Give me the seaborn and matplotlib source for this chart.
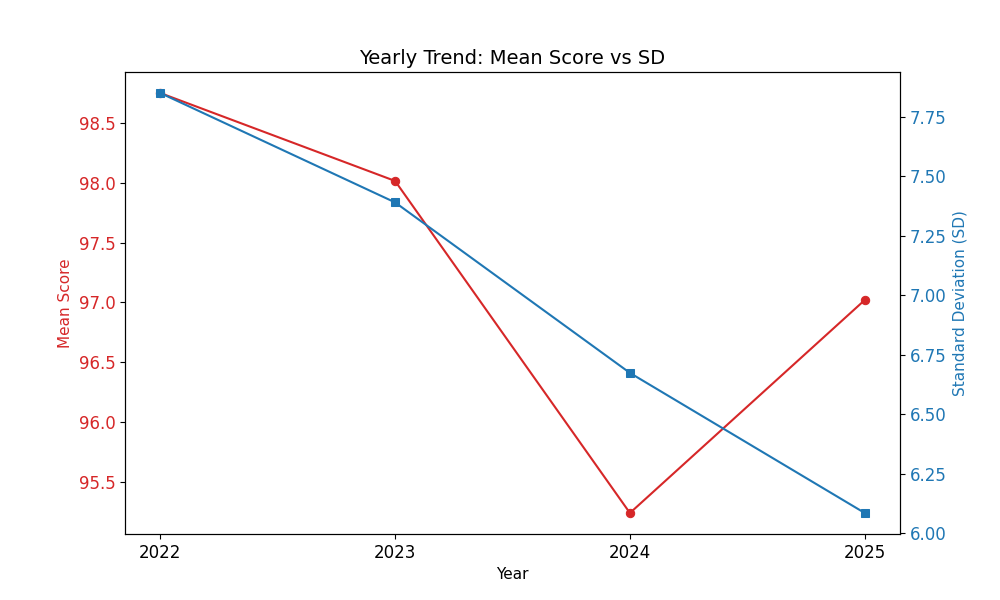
import pandas as pd
import seaborn as sns
import matplotlib.pyplot as plt

# данные по годам
years = [2022, 2023, 2024, 2025]
mean_score = [98.75, 98.015, 95.24, 97.02]
sd_values = [7.85, 7.39, 6.673, 6.084]

df = pd.DataFrame({'Year': years, 'Mean': mean_score, 'SD': sd_values})

fig, ax1 = plt.subplots(figsize=(10, 6), dpi=100)

# средний балл (левая ось)
sns.lineplot(data=df, x='Year', y='Mean', marker='o', color='tab:red',
             markeredgecolor='tab:red', markersize=6, ax=ax1)
ax1.set_xlabel('Year', fontsize=11)
ax1.set_ylabel('Mean Score', color='tab:red', fontsize=11)
ax1.tick_params(axis='y', labelcolor='tab:red', labelsize=12)
ax1.tick_params(axis='x', labelsize=12)
ax1.set_xticks(years)

# стандартное отклонение (правая ось)
ax2 = ax1.twinx()
sns.lineplot(data=df, x='Year', y='SD', marker='s', color='tab:blue',
             markeredgecolor='tab:blue', markersize=6, ax=ax2)
ax2.set_ylabel('Standard Deviation (SD)', color='tab:blue', fontsize=11)
ax2.tick_params(axis='y', labelcolor='tab:blue', labelsize=12)

ax1.set_title('Yearly Trend: Mean Score vs SD', fontsize=14)

plt.savefig('out.png')
